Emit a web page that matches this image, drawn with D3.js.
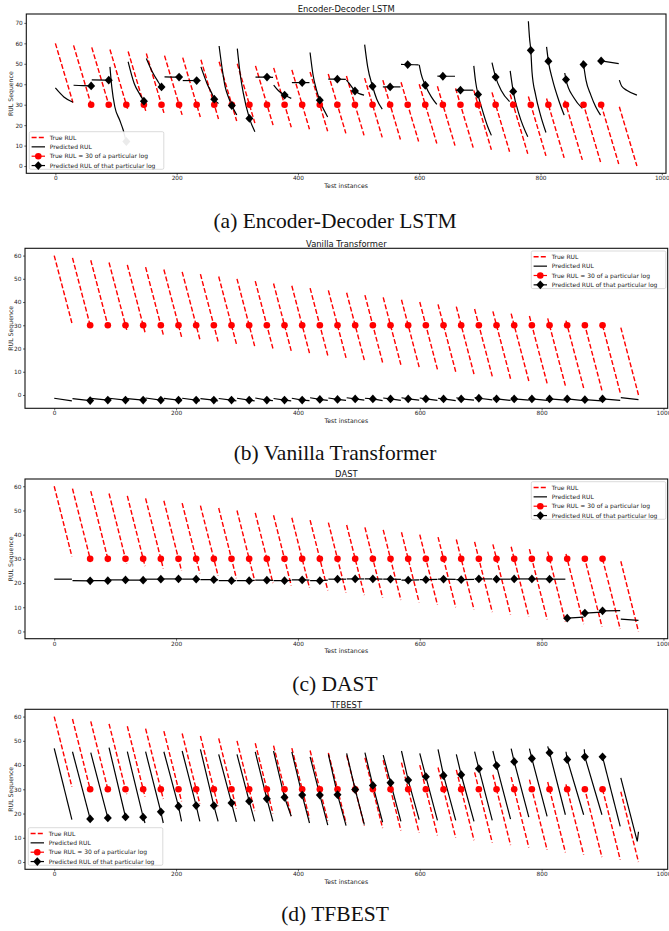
<!DOCTYPE html>
<html>
<head>
<meta charset="utf-8">
<script src="https://cdn.jsdelivr.net/npm/d3@7"></script>
<style>
  body { margin: 0; background: #fff; }
</style>
</head>
<body>
<div id="chart-area"></div>
<script>
// every test log covers 30 instances
const logStarts = [0,30,60,90,120,150,180,210,240,270,300,330,360,390,420,450,480,510,540,570,600,630,660,690,720,750,780,810,840,870,900,930];
const logEnds   = [29,59,89,119,149,179,209,239,269,299,329,359,389,419,449,479,509,539,569,599,629,659,689,719,749,779,809,839,869,899,929,959];
const trueStart = [60,59,58,57,56,55,54,53,52,51,50,49,48,47,46,45,44,43,42,41,40,39,38,37,36,35,34,33,32,31,30,29];
const trueEnd   = [31,30,29,28,27,26,25,24,23,22,21,20,19,18,17,16,15,14,13,12,11,10,9,8,7,6,5,4,3,2,1,0];

// instance where the true RUL of logs 1..30 hits 30
const markerX = [59,88,117,146,175,204,233,262,291,320,349,378,407,436,465,494,523,552,581,610,639,668,697,726,755,784,813,842,871,900];
const markerTrue = 30;

const xTicks = [0,200,400,600,800,1000];
const yTicks70 = [0,10,20,30,40,50,60,70];
const yTicks60 = [0,10,20,30,40,50,60];

// Encoder-Decoder LSTM: predicted curve points per log (marker point added below)
const lstmKnots = [
  [[0,38.2],[14,33.8],[29,31.2]],
  [[30,39.5],[45,39.3]],
  [[60,42.1],[89,41.8]],
  [[90,48.5],[93,38.7],[98,29],[106,22.5],[112,17.5],[119,11]],
  [[120,51],[130,40.4],[140,34.7],[149,30]],
  [[150,52.6],[160,46],[170,41],[179,37.9]],
  [[180,43.6],[209,43.5]],
  [[210,41.8],[239,41.8]],
  [[240,48.5],[250,40.4],[260,34.2],[269,30.6]],
  [[270,58.7],[275,47.7],[280,38.7],[285,34],[299,25]],
  [[300,57.4],[305,44.4],[310,35.5],[329,16.8]],
  [[330,43.5],[359,43.4]],
  [[360,39.6],[368,36.8],[389,33.1]],
  [[390,40.8],[419,40.8]],
  [[420,55.5],[425,44.4],[430,37.9],[449,24]],
  [[450,42.5],[479,42.4]],
  [[480,42],[487,39.5],[509,34.7]],
  [[510,59.4],[515,48.5],[530,32.7],[539,27.8]],
  [[540,38.7],[569,38.7]],
  [[570,49.7],[599,49.5]],
  [[600,49.5],[603,45.2],[620,33.8],[629,30.1]],
  [[630,44],[659,43.9]],
  [[660,37.1],[689,37.1]],
  [[690,49],[693,41.2],[705,26.5],[713,19.2],[719,15]],
  [[720,50.6],[735,37.1],[749,31.5]],
  [[750,46.5],[765,24.9],[779,14.3]],
  [[780,70.8],[782,62.3],[786,46],[792,34.7],[800,24.9],[809,16.4]],
  [[810,58.3],[820,42],[830,32.2],[839,24.9]],
  [[840,45.5],[855,33.4],[869,28.2]],
  [[870,51.5],[875,42],[883,34.7],[891,29],[899,24.9]],
  [[929,50.1]],
  [[930,42],[934,39],[942,37.1],[959,34.7]]
];
const lstmMarker = [39.2,42,12,31.7,38.7,43.5,41.8,32.7,29.6,23.3,43.5,34.7,40.8,32.2,42.5,36.7,39,38.7,49.6,39.5,43.9,37.1,35,43.5,36.5,56.6,51.3,42.3,49.6,51.4];

// Vanilla Transformer
const vanStart  = [-1.4,-1.6,-1.5,-1.4,-1.6,-1.3,-1.5,-1.4,-1.6,-1.5,-1.4,-1.3,-1.5,-1.4,-1.2,-1.3,-1.2,-1.4,-1.3,-1.2,-1.3,-1.4,-1.2,-1.1,-1.3,-1.2,-1.3,-1.2,-1.4,-1.3,-1.2,-1.1];
const vanEnd    = [-2.5,-2.6,-2.6,-2.5,-2.6,-2.4,-2.6,-2.5,-2.6,-2.5,-2.5,-2.4,-2.5,-2.4,-2.3,-2.3,-2.2,-2.4,-2.3,-2.2,-2.3,-2.4,-2.2,-2.1,-2.3,-2.2,-2.3,-2.2,-2.4,-2.5,-2.3,-2.0];
const vanMarker = [-2.4,-2.2,-2.2,-2.2,-2.2,-2.2,-2.2,-2.2,-2.2,-2.2,-2.2,-2.2,-2.2,-1.9,-1.9,-1.7,-1.7,-1.7,-1.7,-1.7,-1.7,-1.7,-1.4,-1.7,-1.7,-1.7,-1.7,-1.7,-2.0,-1.7];

// DAST
const dastStart  = [21.6,21.0,21.0,21.3,21.2,21.6,21.7,21.6,21.4,21.0,21.0,21.2,21.0,21.3,21.0,21.6,21.7,21.7,21.6,21.2,21.4,21.6,21.4,21.7,21.6,21.7,21.7,21.6,5.5,7.2,8.4,5.1];
const dastEnd    = [21.6,20.9,21.1,21.3,21.3,21.6,21.7,21.5,21.3,21.0,21.1,21.1,21.1,21.2,21.2,21.6,21.7,21.6,21.5,21.3,21.5,21.5,21.5,21.7,21.6,21.7,21.7,21.6,5.9,8.0,8.6,4.6];
const dastMarker = [20.9,21.0,21.3,21.2,21.6,21.7,21.6,21.4,21.0,21.0,21.2,21.0,21.3,21.0,21.6,21.7,21.7,21.6,21.2,21.4,21.6,21.4,21.7,21.6,21.7,21.7,21.6,5.5,7.6,8.5];

// TFBEST
const tfStart  = [46.9,45.5,45.1,47.2,45.5,45.5,45.5,45.8,46.5,44.4,44.4,45.4,45.8,45.4,43.4,44.4,44.8,45.1,44.1,45.8,44.8,46.5,44.4,45.5,45.8,46.8,46.8,47.7,45.5,46.5,44.4,34.7];
const tfEnd    = [17.5,17.8,17.5,17.5,16.1,16.1,16.8,16.8,16.8,16.6,16.8,16.8,18.9,16.1,15.2,15.0,15.4,16.4,16.8,17.5,17.2,17.2,16.8,17.2,17.7,18.5,18.8,19.5,19.5,19.5,14.7,12.5];
const tfMarker = [17.8,18.2,18.6,18.5,20.7,23.0,23.3,23.3,24.4,25.1,26.1,26.7,27.6,27.6,27.8,29.9,31.6,32.7,33.8,35.2,35.7,36.0,38.5,39.8,41.4,42.7,45.1,42.3,43.4,43.4];
const tfHook = [957, 8.5];

const legendLabels = ["True RUL", "Predicted RUL", "True RUL = 30 of a particular log", "Predicted RUL of that particular log"];

// ---------------------------------------------------------------
function withMarker(knots, marker) {
  return knots.map((pts, i) => {
    pts = pts.slice();
    if (i >= 1 && i <= markerX.length) {
      const m = [markerX[i - 1], marker[i - 1]];
      const k = pts.findIndex(p => p[0] === m[0]);
      if (k >= 0) pts[k] = m; else pts.push(m);
    }
    return pts.sort((a, b) => a[0] - b[0]);
  });
}
function fromEnds(start, end) {
  return logStarts.map((x0, i) => [[x0, start[i]], [logEnds[i], end[i]]]);
}

const tfKnots = fromEnds(tfStart, tfEnd);
tfKnots[31].splice(1, 0, tfHook);

const panels = [
  {title: "Encoder-Decoder LSTM", caption: "(a) Encoder-Decoder LSTM", box: {l: 26.3, r: 666, t: 14, b: 173.3},
   yTicks: yTicks70, legend: [29.3, 131.7], capY: 228, segs: withMarker(lstmKnots, lstmMarker), marker: lstmMarker, curve: d3.curveMonotoneX},
  {title: "Vanilla Transformer", caption: "(b) Vanilla Transformer", box: {l: 25, r: 667.7, t: 248.3, b: 408.3},
   yTicks: yTicks60, legend: [531.3, 251], capY: 460, segs: withMarker(fromEnds(vanStart, vanEnd), vanMarker), marker: vanMarker, curve: d3.curveLinear},
  {title: "DAST", caption: "(c) DAST", box: {l: 25, r: 667.7, t: 479, b: 638.7},
   yTicks: yTicks60, legend: [531.3, 481.7], capY: 691, segs: withMarker(fromEnds(dastStart, dastEnd), dastMarker), marker: dastMarker, curve: d3.curveLinear},
  {title: "TFBEST", caption: "(d) TFBEST", box: {l: 25, r: 667.7, t: 709.3, b: 869.3},
   yTicks: yTicks60, legend: [28.3, 827.7], capY: 921, segs: withMarker(tfKnots, tfMarker), marker: tfMarker, curve: d3.curveLinear}
];

const svg = d3.select("#chart-area").append("svg")
  .attr("width", 669)
  .attr("height", 931)
  .style("font-family", "'DejaVu Sans', sans-serif");

const diamond = "M0,-4.4L4,0L0,4.4L-4,0Z";

function pad(ext) {
  const r = ext[1] - ext[0];
  return [ext[0] - 0.05 * r, ext[1] + 0.05 * r];
}

panels.forEach(p => {
  const g = svg.append("g");
  const allY = trueStart.concat(trueEnd, p.marker, p.segs.flat().map(d => d[1]));
  const x = d3.scaleLinear().domain(pad([logStarts[0], logEnds[logEnds.length - 1]])).range([p.box.l, p.box.r]);
  const y = d3.scaleLinear().domain(pad(d3.extent(allY))).range([p.box.b, p.box.t]);

  // true RUL
  g.selectAll(".true").data(logStarts).enter().append("line")
    .attr("x1", (d, i) => x(d)).attr("y1", (d, i) => y(trueStart[i]))
    .attr("x2", (d, i) => x(logEnds[i])).attr("y2", (d, i) => y(trueEnd[i]))
    .attr("stroke", "#ff0000").attr("stroke-width", 1.4)
    .attr("stroke-dasharray", "5,2.2");

  // predicted RUL
  const line = d3.line().x(d => x(d[0])).y(d => y(d[1])).curve(p.curve);
  g.selectAll(".pred").data(p.segs).enter().append("path")
    .attr("d", line)
    .attr("fill", "none").attr("stroke", "#000").attr("stroke-width", 1.2);

  // true RUL = 30 markers
  g.selectAll(".dot").data(markerX).enter().append("circle")
    .attr("cx", d => x(d)).attr("cy", y(markerTrue)).attr("r", 3.3)
    .attr("fill", "#ff0000");

  // predicted at that point
  g.selectAll(".dia").data(markerX).enter().append("path")
    .attr("d", diamond)
    .attr("transform", (d, i) => `translate(${x(d)},${y(p.marker[i])})`)
    .attr("fill", "#000");

  // axes
  const xa = g.append("g").attr("transform", `translate(0,${p.box.b})`)
    .call(d3.axisBottom(x).tickValues(xTicks).tickSize(2).tickPadding(1).tickFormat(d3.format("d")));
  const ya = g.append("g").attr("transform", `translate(${p.box.l},0)`)
    .call(d3.axisLeft(y).tickValues(p.yTicks).tickSize(2).tickPadding(1.5));
  [xa, ya].forEach(a => {
    a.select(".domain").remove();
    a.selectAll("text").attr("font-size", 5.8).attr("fill", "#222").style("font-family", "'DejaVu Sans', sans-serif");
    a.selectAll("line").attr("stroke", "#222").attr("stroke-width", 0.7);
  });

  // frame
  g.append("rect")
    .attr("x", p.box.l).attr("y", p.box.t)
    .attr("width", p.box.r - p.box.l).attr("height", p.box.b - p.box.t)
    .attr("fill", "none").attr("stroke", "#111").attr("stroke-width", 1.1);

  // labels
  g.append("text")
    .attr("x", (p.box.l + p.box.r) / 2).attr("y", p.box.t - 1.8)
    .attr("text-anchor", "middle").attr("font-size", 8.4).attr("fill", "#111")
    .text(p.title);
  g.append("text")
    .attr("x", (p.box.l + p.box.r) / 2).attr("y", p.box.b + 14.3)
    .attr("text-anchor", "middle").attr("font-size", 6.2).attr("fill", "#222")
    .text("Test instances");
  g.append("text")
    .attr("transform", `translate(13.2,${(p.box.t + p.box.b) / 2}) rotate(-90)`)
    .attr("text-anchor", "middle").attr("font-size", 6.2).attr("fill", "#222")
    .text("RUL Sequence");

  // legend
  const [lx, ly] = p.legend;
  const lg = g.append("g").attr("transform", `translate(${lx},${ly})`);
  lg.append("rect")
    .attr("width", 134.5).attr("height", 37.6).attr("rx", 1.5)
    .attr("fill", "#fff").attr("fill-opacity", 0.92)
    .attr("stroke", "#ccc").attr("stroke-width", 0.7);
  legendLabels.forEach((lab, k) => {
    const yy = 5.8 + k * 9.35;
    const ln = lg.append("line").attr("x1", 2.3).attr("x2", 15.7).attr("y1", yy).attr("y2", yy)
      .attr("stroke", k % 2 === 0 ? "#ff0000" : "#000").attr("stroke-width", k === 0 ? 1.4 : 1.2);
    if (k === 0) ln.attr("stroke-dasharray", "5,2.2");
    if (k === 2) lg.append("circle").attr("cx", 9).attr("cy", yy).attr("r", 3.3).attr("fill", "#ff0000");
    if (k === 3) lg.append("path").attr("d", diamond).attr("transform", `translate(9,${yy})`).attr("fill", "#000");
    lg.append("text").attr("x", 20.5).attr("y", yy + 2.1)
      .attr("font-size", 6).attr("fill", "#222").text(lab);
  });

  // caption below the panel
  svg.append("text")
    .attr("x", 335).attr("y", p.capY)
    .attr("text-anchor", "middle")
    .style("font-family", "'Liberation Serif', 'Times New Roman', serif")
    .attr("font-size", 21.5).attr("fill", "#111")
    .text(p.caption);
});
</script>
</body>
</html>
